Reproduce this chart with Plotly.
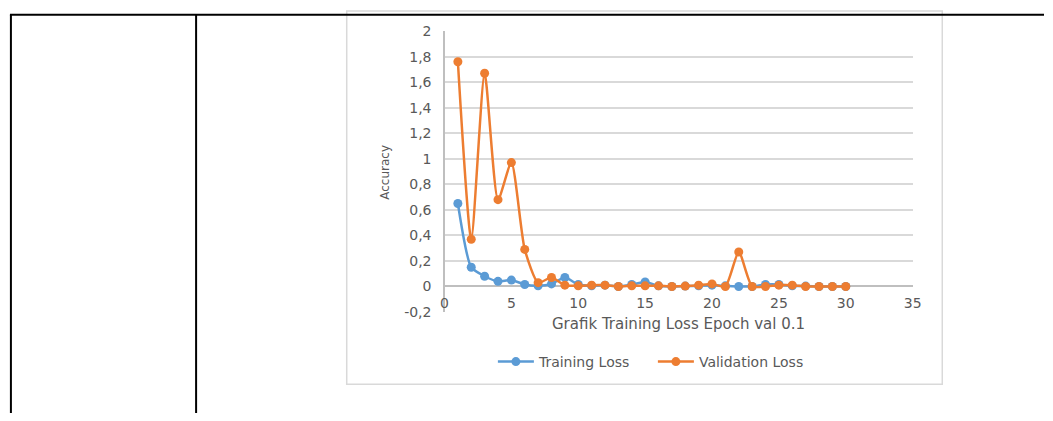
import plotly.graph_objects as go

epochs = list(range(1, 31))
training_loss = [0.65, 0.15, 0.08, 0.04, 0.05, 0.015, 0.005, 0.02, 0.07, 0.015,
                 0.005, 0.01, 0.0, 0.015, 0.035, 0.005, 0.0, 0.003, 0.005, 0.01,
                 0.005, 0.0, 0.0, 0.015, 0.015, 0.005, 0.003, 0.0, 0.0, 0.0]
validation_loss = [1.76, 0.37, 1.67, 0.68, 0.97, 0.29, 0.03, 0.07, 0.01, 0.005,
                   0.01, 0.01, 0.0, 0.005, 0.005, 0.005, 0.0, 0.003, 0.01, 0.02,
                   0.0, 0.27, 0.0, 0.0, 0.01, 0.01, 0.0, 0.0, 0.0, 0.0]
y_ticks = [-0.2, 0, 0.2, 0.4, 0.6, 0.8, 1, 1.2, 1.4, 1.6, 1.8, 2]
y_ticktext = ["-0,2", "0", "0,2", "0,4", "0,6", "0,8", "1", "1,2", "1,4", "1,6", "1,8", "2"]
x_ticks = [0, 5, 10, 15, 20, 25, 30, 35]

W, H = 1053, 421
FONT = "DejaVu Sans"
GRAY = "#595959"

def px(x):
    return x / W

def py(y):
    return 1 - y / H

fig = go.Figure()
fig.add_trace(go.Scatter(
    x=epochs, y=training_loss, name="Training Loss", mode="lines+markers",
    line=dict(color="#5B9BD5", width=2.5, shape="spline", smoothing=0.6),
    marker=dict(color="#5B9BD5", size=9)))
fig.add_trace(go.Scatter(
    x=epochs, y=validation_loss, name="Validation Loss", mode="lines+markers",
    line=dict(color="#ED7D31", width=2.5, shape="spline", smoothing=0.6),
    marker=dict(color="#ED7D31", size=9)))

shapes = [
    # chart frame
    dict(type="rect", xref="paper", yref="paper", x0=px(347), x1=px(950), y0=py(391), y1=py(3),
         line=dict(color="#d9d9d9", width=1.5), layer="below"),
    # table lines
    dict(type="line", xref="paper", yref="paper", x0=px(6), x1=1, y0=py(7), y1=py(7),
         line=dict(color="black", width=2)),
    dict(type="line", xref="paper", yref="paper", x0=px(7), x1=px(7), y0=py(7), y1=0,
         line=dict(color="black", width=2)),
    dict(type="line", xref="paper", yref="paper", x0=px(194.5), x1=px(194.5), y0=py(7), y1=0,
         line=dict(color="black", width=2)),
]

fig.update_layout(
    width=W, height=H,
    margin=dict(l=0, r=0, t=0, b=0),
    paper_bgcolor="white", plot_bgcolor="white",
    font=dict(family=FONT, color=GRAY, size=13),
    shapes=shapes,
    showlegend=True,
    legend=dict(orientation="h", x=px(657), y=py(368), xanchor="center", yanchor="middle",
                font=dict(family=FONT, size=14, color=GRAY), bgcolor="rgba(0,0,0,0)",
                itemwidth=36, tracegroupgap=0, entrywidth=109, entrywidthmode="pixels"),
    annotations=[
        dict(text="Grafik Training Loss Epoch val 0.1", xref="paper", yref="paper",
             x=px(683), y=py(328), xanchor="center", yanchor="middle", showarrow=False,
             font=dict(family=FONT, size=15, color=GRAY)),
        dict(text="Accuracy", xref="paper", yref="paper", textangle=-90,
             x=px(385), y=py(171), xanchor="center", yanchor="middle", showarrow=False,
             font=dict(family=FONT, size=12, color=GRAY)),
    ],
    xaxis=dict(domain=[px(446), px(920)], range=[0, 35], tickvals=x_ticks,
               anchor="free", position=py(289.5),
               showgrid=False, showline=False, zeroline=True, zerolinecolor="#bfbfbf",
               zerolinewidth=1.5, ticks="", ticklabelstandoff=7,
               tickfont=dict(family=FONT, size=14, color=GRAY)),
    yaxis=dict(domain=[py(316), py(24)], range=[-0.2, 2], tickvals=y_ticks, ticktext=y_ticktext,
               showgrid=True, gridcolor="#d9d9d9", gridwidth=1.5,
               showline=False, zeroline=True, zerolinecolor="#bfbfbf", zerolinewidth=1.5,
               ticks="", ticklabelstandoff=12,
               tickfont=dict(family=FONT, size=14, color=GRAY)),
)

fig.write_html("out.html")
